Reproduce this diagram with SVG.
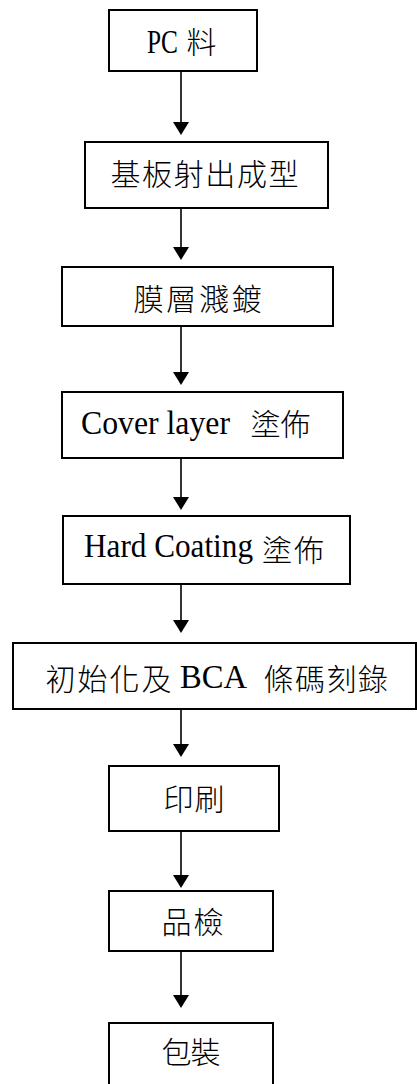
<svg xmlns="http://www.w3.org/2000/svg" width="417" height="1084" viewBox="0 0 417 1084">
<style>
.box{fill:#fff;stroke:#000;stroke-width:2}
.c{font-family:"Noto Sans CJK TC","Noto Sans CJK SC",sans-serif;font-size:30px;font-weight:300;fill:#000}
.l{font-family:"Liberation Serif",serif;font-size:33px;fill:#000}
.conn line{stroke:#000;stroke-width:1.6}
</style>
<defs>
<marker id="ah" viewBox="0 0 13 16" refX="8" refY="8" markerWidth="13" markerHeight="16" markerUnits="userSpaceOnUse" orient="auto">
<path d="M0,0 L13,8 L0,16 Z" fill="#000"/>
</marker>
</defs>
<g id="connectors" class="conn">
<line x1="181" y1="71" x2="181" y2="130" marker-end="url(#ah)"/>
<line x1="181" y1="208" x2="181" y2="255" marker-end="url(#ah)"/>
<line x1="181" y1="326" x2="181" y2="380" marker-end="url(#ah)"/>
<line x1="181" y1="458" x2="181" y2="505" marker-end="url(#ah)"/>
<line x1="181" y1="584" x2="181" y2="628" marker-end="url(#ah)"/>
<line x1="181" y1="709" x2="181" y2="752" marker-end="url(#ah)"/>
<line x1="181" y1="831" x2="181" y2="883" marker-end="url(#ah)"/>
<line x1="181" y1="951" x2="181" y2="1003" marker-end="url(#ah)"/>
</g>
<g id="n1">
<rect class="box" x="109" y="10" width="148" height="61"/>
<text class="l" y="53" font-size="34"><tspan x="147" textLength="31" lengthAdjust="spacingAndGlyphs">PC</tspan></text>
<text class="c" x="186.5" y="53">料</text>
</g>
<g id="n2">
<rect class="box" x="85" y="142" width="243" height="66"/>
<text class="c" x="110.5" y="185" letter-spacing="1.6">基板射出成型</text>
</g>
<g id="n3">
<rect class="box" x="62" y="267" width="271" height="59"/>
<text class="c" x="133.5" y="310" letter-spacing="2.7">膜層濺鍍</text>
</g>
<g id="n4">
<rect class="box" x="62" y="392" width="281" height="66"/>
<text class="l" y="434"><tspan x="81" textLength="149" lengthAdjust="spacingAndGlyphs">Cover layer</tspan></text>
<text class="c" x="250.5" y="435">塗佈</text>
</g>
<g id="n5">
<rect class="box" x="63" y="516" width="287" height="68"/>
<text class="l" y="557"><tspan x="84" textLength="169" lengthAdjust="spacingAndGlyphs">Hard Coating</tspan></text>
<text class="c" x="262" y="561" letter-spacing="2">塗佈</text>
</g>
<g id="n6">
<rect class="box" x="13" y="643" width="403" height="66"/>
<text class="c" x="45.5" y="690" letter-spacing="2">初始化及</text>
<text class="l" y="688" font-size="31"><tspan x="180" textLength="67" lengthAdjust="spacingAndGlyphs">BCA</tspan></text>
<text class="c" x="263.5" y="690" letter-spacing="1.5">條碼刻錄</text>
</g>
<g id="n7">
<rect class="box" x="109" y="766" width="170" height="65"/>
<text class="c" x="163.5" y="810" letter-spacing="1">印刷</text>
</g>
<g id="n8">
<rect class="box" x="109" y="891" width="164" height="60"/>
<text class="c" x="161.5" y="933" letter-spacing="2">品檢</text>
</g>
<g id="n9">
<rect class="box" x="109" y="1023" width="164" height="70"/>
<text class="c" x="161.5" y="1063" letter-spacing="-1">包裝</text>
</g>
</svg>
